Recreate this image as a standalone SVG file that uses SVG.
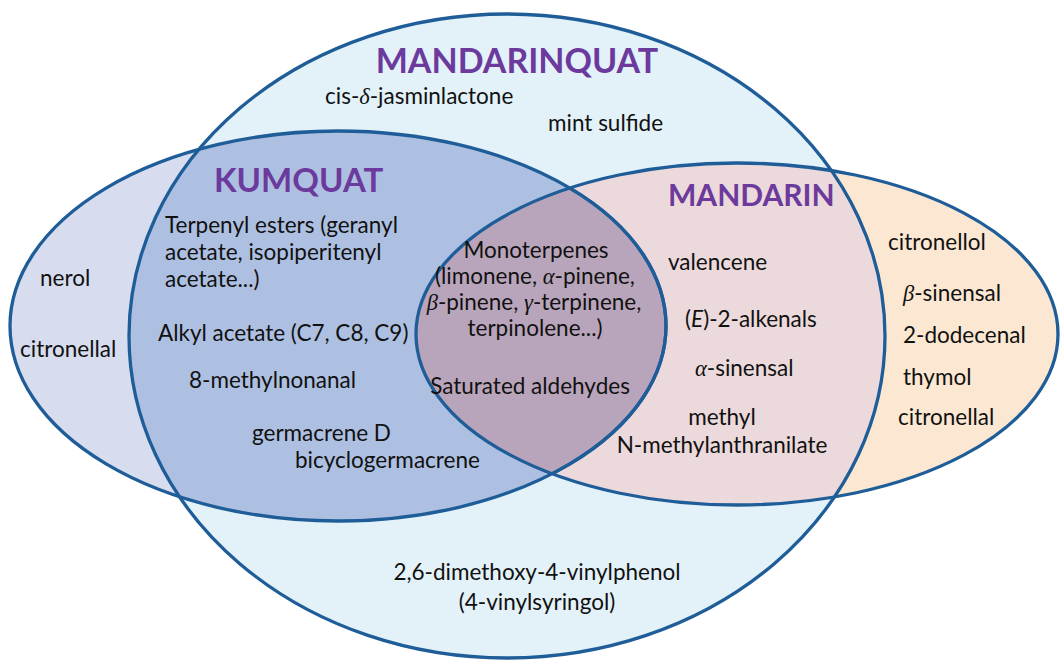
<svg xmlns="http://www.w3.org/2000/svg" width="1062" height="660" viewBox="0 0 1062 660">
<style>
.t{font-family:Lato,"Open Sans","Liberation Sans",sans-serif;font-size:22.5px;fill:#111}
.h{font-family:Lato,"Open Sans","Liberation Sans",sans-serif;font-weight:bold;fill:#6b3a9c}
.g{font-family:"Liberation Serif","DejaVu Serif",serif;font-style:italic}
.i{font-style:italic}
.c{text-anchor:middle}
.o{fill:none;stroke:#1f5d98;stroke-width:3.3}
</style>
<defs>
<ellipse id="eMQ" cx="507" cy="336" rx="378" ry="322"/>
<ellipse id="eK" cx="338" cy="326" rx="328" ry="195"/>
<ellipse id="eM" cx="737" cy="334" rx="321" ry="171"/>
<clipPath id="cMQ"><use href="#eMQ"/></clipPath>
<clipPath id="cK"><use href="#eK"/></clipPath>
<clipPath id="cM"><use href="#eM"/></clipPath>
</defs>
<rect width="1062" height="660" fill="#ffffff"/>
<g id="fills">
<use href="#eMQ" fill="#e3f1f9"/>
<use href="#eK" fill="#d7ddef"/>
<use href="#eM" fill="#fce8d2"/>
<g clip-path="url(#cMQ)">
<use href="#eK" fill="#adc0e2"/>
<use href="#eM" fill="#ecd9db"/>
<g clip-path="url(#cK)"><use href="#eM" fill="#b9a5bb"/></g>
</g>
</g>
<g id="mandarinquat">
<use href="#eMQ" class="o"/>
<text class="h c" x="517" y="73" font-size="34">MANDARINQUAT</text>
<text class="t" x="325" y="104">cis-<tspan class="g">δ</tspan>-jasminlactone</text>
<text class="t" x="548" y="131">mint sulfide</text>
<text class="t c" x="537" y="580" font-size="23.5">2,6-dimethoxy-4-vinylphenol</text>
<text class="t c" x="537" y="610" font-size="23.5">(4-vinylsyringol)</text>
</g>
<g id="kumquat">
<use href="#eK" class="o"/>
<g clip-path="url(#cM)"><use href="#eK" class="o" stroke="#4a5486"/></g>
<text class="h" x="214" y="192" font-size="33">KUMQUAT</text>
<text class="t" x="40" y="286">nerol</text>
<text class="t" x="20" y="357">citronellal</text>
<text class="t" x="165" y="233">Terpenyl esters (geranyl</text>
<text class="t" x="165" y="260">acetate, isopiperitenyl</text>
<text class="t" x="165" y="287">acetate...)</text>
<text class="t" x="158" y="341">Alkyl acetate (C7, C8, C9)</text>
<text class="t" x="189" y="388">8-methylnonanal</text>
<text class="t" x="252" y="441">germacrene D</text>
<text class="t" x="295" y="468">bicyclogermacrene</text>
</g>
<g id="mandarin">
<use href="#eM" class="o"/>
<text class="h" x="668" y="206" font-size="30">MANDARIN</text>
<text class="t" x="668" y="270">valencene</text>
<text class="t" x="685" y="327">(<tspan class="i">E</tspan>)-2-alkenals</text>
<text class="t" x="695" y="376"><tspan class="g">α</tspan>-sinensal</text>
<text class="t c" x="722" y="425">methyl</text>
<text class="t c" x="722" y="453">N-methylanthranilate</text>
<text class="t" x="888" y="250">citronellol</text>
<text class="t" x="903" y="301"><tspan class="g">β</tspan>-sinensal</text>
<text class="t" x="903" y="343">2-dodecenal</text>
<text class="t" x="903" y="385">thymol</text>
<text class="t" x="898" y="425">citronellal</text>
</g>
<g id="shared">
<text class="t c" x="536" y="258">Monoterpenes</text>
<text class="t c" x="535" y="284">(limonene, <tspan class="g">α</tspan>-pinene,</text>
<text class="t c" x="534" y="310"><tspan class="g">β</tspan>-pinene, <tspan class="g">γ</tspan>-terpinene,</text>
<text class="t c" x="535" y="336">terpinolene...)</text>
<text class="t c" x="530" y="394">Saturated aldehydes</text>
</g>
</svg>
